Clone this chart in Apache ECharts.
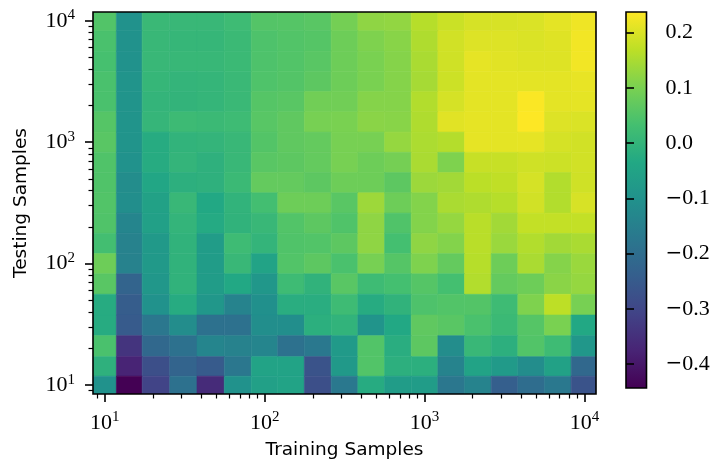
<!DOCTYPE html>
<html>
<head>
<meta charset="utf-8">
<title>Training vs testing samples</title>
<script src="https://cdn.jsdelivr.net/npm/echarts@6/dist/echarts.min.js"></script>
<style>
  html, body { margin: 0; padding: 0; background: #ffffff; }
  #chart { width: 715px; height: 466px; }
</style>
</head>
<body>
<div id="chart"></div>
<script>
// Sample counts used on both axes (log-spaced, rounded down to integers)
const trainingSamples = [10, 14, 21, 31, 46, 68, 100, 146, 215, 316, 464, 681, 1000, 1467, 2154, 3162, 4641, 6812, 10000];
const testingSamples  = [10, 14, 21, 31, 46, 68, 100, 146, 215, 316, 464, 681, 1000, 1467, 2154, 3162, 4641, 6812, 10000];

// Score per cell; one row per testing-sample count, listed from 10000 (top) down to 10 (bottom),
// each row runs over the training-sample counts from 10 to 10000.
const scoreRows = [
  [ 0.050, -0.100,  0.013,  0.010,  0.010,  0.020,  0.053,  0.055,  0.060,  0.094,  0.122,  0.125,  0.162,  0.183,  0.196,  0.197,  0.200,  0.210,  0.222],
  [ 0.040, -0.100,  0.010,  0.005,  0.005,  0.015,  0.045,  0.050,  0.055,  0.085,  0.105,  0.115,  0.155,  0.190,  0.203,  0.203,  0.200,  0.205,  0.225],
  [ 0.035, -0.100,  0.010,  0.008,  0.008,  0.015,  0.045,  0.050,  0.060,  0.085,  0.100,  0.112,  0.150,  0.188,  0.213,  0.207,  0.204,  0.204,  0.225],
  [ 0.040, -0.095,  0.005,  0.000,  0.003,  0.013,  0.047,  0.052,  0.065,  0.085,  0.100,  0.112,  0.146,  0.185,  0.210,  0.210,  0.210,  0.210,  0.215],
  [ 0.040, -0.095,  0.000, -0.002,  0.003,  0.013,  0.055,  0.060,  0.090,  0.090,  0.112,  0.112,  0.158,  0.195,  0.210,  0.210,  0.234,  0.210,  0.212],
  [ 0.055, -0.095,  0.004,  0.018,  0.015,  0.020,  0.058,  0.068,  0.097,  0.100,  0.117,  0.115,  0.155,  0.207,  0.213,  0.210,  0.237,  0.203,  0.200],
  [ 0.060, -0.095, -0.025, -0.003,  0.000,  0.010,  0.052,  0.068,  0.073,  0.097,  0.097,  0.128,  0.152,  0.160,  0.213,  0.210,  0.213,  0.195,  0.190],
  [ 0.048, -0.100, -0.025,  0.000, -0.010,  0.010,  0.060,  0.065,  0.073,  0.097,  0.085,  0.095,  0.150,  0.105,  0.180,  0.180,  0.188,  0.185,  0.190],
  [ 0.048, -0.115, -0.040, -0.013, -0.010,  0.015,  0.073,  0.073,  0.065,  0.085,  0.085,  0.065,  0.135,  0.142,  0.167,  0.172,  0.195,  0.158,  0.188],
  [ 0.050, -0.110, -0.055,  0.010, -0.035, -0.003,  0.030,  0.085,  0.085,  0.060,  0.137,  0.085,  0.110,  0.150,  0.155,  0.162,  0.190,  0.158,  0.197],
  [ 0.048, -0.135, -0.060,  0.000, -0.030, -0.005,  0.010,  0.050,  0.065,  0.048,  0.122,  0.048,  0.110,  0.128,  0.165,  0.142,  0.175,  0.175,  0.175],
  [ 0.030, -0.145, -0.080, -0.005, -0.070,  0.020,  0.000,  0.048,  0.050,  0.065,  0.122,  0.033,  0.122,  0.110,  0.165,  0.133,  0.158,  0.142,  0.150],
  [ 0.085, -0.145, -0.080, -0.005, -0.070,  0.010, -0.050,  0.050,  0.065,  0.040,  0.097,  0.055,  0.105,  0.073,  0.162,  0.085,  0.150,  0.112,  0.133],
  [ 0.060, -0.225, -0.085, -0.005, -0.070, -0.035, -0.085,  0.020, -0.005,  0.060,  0.020,  0.033,  0.055,  0.033,  0.158,  0.073,  0.085,  0.117,  0.128],
  [-0.025, -0.245, -0.100, -0.025, -0.085, -0.140, -0.105, -0.020, -0.020,  0.020, -0.025, -0.005,  0.045,  0.050,  0.052,  0.020,  0.105,  0.169,  0.097],
  [-0.025, -0.250, -0.175, -0.115, -0.190, -0.190, -0.110, -0.110, -0.015, -0.003, -0.095, -0.035,  0.068,  0.060,  0.040,  0.015,  0.055,  0.100, -0.035],
  [ 0.040, -0.340, -0.215, -0.190, -0.135, -0.145, -0.135, -0.190, -0.170, -0.075,  0.050, -0.020,  0.065, -0.115,  0.010, -0.013,  0.050,  0.020, -0.085],
  [-0.010, -0.375, -0.280, -0.225, -0.250, -0.175, -0.050, -0.050, -0.270, -0.080,  0.050, -0.013, -0.015, -0.140, -0.050, -0.075, -0.115, -0.055, -0.215],
  [-0.100, -0.443, -0.307, -0.190, -0.360, -0.100, -0.060, -0.050, -0.280, -0.170, -0.025, -0.070, -0.070, -0.175, -0.140, -0.239, -0.200, -0.170, -0.270]
];

// Axis ticks
const majorTicks = [10, 100, 1000, 10000];
const minorTicks = [9, 20, 30, 40, 50, 60, 70, 80, 90, 200, 300, 400, 500, 600, 700, 800, 900,
                    2000, 3000, 4000, 5000, 6000, 7000, 8000, 9000];
const colorbarTicks = [-0.4, -0.3, -0.2, -0.1, 0.0, 0.1, 0.2];

// Shared view limits of both log axes
const axisMin = 8.45;
const axisMax = 11800;

// Viridis colour map, stops at 0, 0.1, ..., 1
const viridis = ['#440154', '#482475', '#414487', '#355f8d', '#2a788e', '#21918c',
                 '#22a884', '#44bf70', '#7ad151', '#bddf26', '#fde725'];

// Cell edges: midpoints between neighbouring centres in log space, extrapolated at both ends
function logEdges(centres) {
  const l = centres.map(v => Math.log10(v));
  const e = [];
  e.push(Math.pow(10, l[0] - (l[1] - l[0]) / 2));
  for (let k = 0; k < l.length - 1; k++) e.push(Math.pow(10, (l[k] + l[k + 1]) / 2));
  const n = l.length - 1;
  e.push(Math.pow(10, l[n] + (l[n] - l[n - 1]) / 2));
  return e;
}
const xEdges = logEdges(trainingSamples);
const yEdges = logEdges(testingSamples);

const cells = [];
const nRows = testingSamples.length;
scoreRows.forEach((row, r) => {
  const j = nRows - 1 - r;
  row.forEach((v, i) => cells.push([trainingSamples[i], testingSamples[j], v, i, j]));
});
const allScores = scoreRows.flat();
const vMin = Math.min(...allScores);
const vMax = Math.max(...allScores);

const serifFont = 'Liberation Serif';
const sansFont = 'DejaVu Sans';

const powerRich = {
  b: { fontFamily: serifFont, fontSize: 22, color: '#000', lineHeight: 26 },
  s: { fontFamily: serifFont, fontSize: 15, color: '#000', lineHeight: 15, verticalAlign: 'top' }
};
function powerLabel(value) {
  return '{b|10}{s|' + Math.round(Math.log10(value)) + '}';
}

function logAxis(gridIndex, position, isMajor, extra) {
  return Object.assign({
    type: 'log',
    logBase: 10,
    gridIndex: gridIndex,
    position: position,
    min: axisMin,
    max: axisMax,
    z: 6,
    axisLine: { show: false },
    splitLine: { show: false },
    minorTick: { show: false },
    axisTick: {
      show: true,
      customValues: isMajor ? majorTicks : minorTicks,
      length: isMajor ? 8 : 4.5,
      lineStyle: { color: '#000', width: isMajor ? 1.6 : 1.2 }
    },
    axisLabel: isMajor ? {
      show: true,
      customValues: majorTicks,
      formatter: powerLabel,
      rich: powerRich
    } : { show: false }
  }, extra || {});
}

const chart = echarts.init(document.getElementById('chart'), null, { renderer: 'canvas' });

chart.setOption({
  backgroundColor: '#ffffff',
  animation: false,
  grid: [
    { left: 93, top: 12, width: 503, height: 382, show: true, z: 5,
      backgroundColor: 'transparent', borderColor: '#000', borderWidth: 1.6 },
    { left: 626, top: 12, width: 20.5, height: 376, show: true, z: 5,
      backgroundColor: 'transparent', borderColor: '#000', borderWidth: 1.6 }
  ],
  xAxis: [
    logAxis(0, 'bottom', true, {
      axisLabel: { show: true, customValues: majorTicks, formatter: powerLabel, rich: powerRich, margin: 16 },
      name: 'Training Samples',
      nameLocation: 'middle',
      nameGap: 47,
      nameTextStyle: { fontFamily: sansFont, fontSize: 18.5, color: '#000' }
    }),
    logAxis(0, 'bottom', false),
    { type: 'value', gridIndex: 1, min: 0, max: 1, show: false }
  ],
  yAxis: [
    logAxis(0, 'left', true, {
      axisLabel: { show: true, customValues: majorTicks, formatter: powerLabel, rich: powerRich, margin: 18 },
      name: 'Testing Samples',
      nameLocation: 'middle',
      nameGap: 62,
      nameTextStyle: { fontFamily: sansFont, fontSize: 18.5, color: '#000' }
    }),
    logAxis(0, 'left', false),
    {
      type: 'value', gridIndex: 1, position: 'right',
      min: vMin, max: vMax, z: 6,
      axisLine: { show: false },
      splitLine: { show: false },
      axisTick: { show: true, customValues: colorbarTicks, length: 8,
                  lineStyle: { color: '#000', width: 1.6 } },
      axisLabel: {
        show: true,
        customValues: colorbarTicks,
        margin: 19,
        formatter: function (v) {
          const s = Math.abs(v).toFixed(1);
          return v < -1e-9 ? '{m|\u2212}{n|' + s + '}' : '{n|' + s + '}';
        },
        rich: {
          m: { fontFamily: 'DejaVu Serif', fontSize: 20, color: '#000' },
          n: { fontFamily: serifFont, fontSize: 22, color: '#000' }
        }
      }
    }
  ],
  visualMap: {
    type: 'continuous',
    show: false,
    seriesIndex: 0,
    dimension: 2,
    min: vMin,
    max: vMax,
    inRange: { color: viridis }
  },
  series: [
    {
      type: 'custom',
      xAxisIndex: 0,
      yAxisIndex: 0,
      clip: true,
      z: 2,
      encode: { x: 0, y: 1 },
      data: cells,
      renderItem: function (params, api) {
        const i = api.value(3), j = api.value(4);
        const p0 = api.coord([xEdges[i], yEdges[j]]);
        const p1 = api.coord([xEdges[i + 1], yEdges[j + 1]]);
        const color = api.visual('color');
        return {
          type: 'rect',
          shape: { x: p0[0], y: p1[1], width: p1[0] - p0[0], height: p0[1] - p1[1] },
          style: { fill: color, stroke: color, lineWidth: 0.6 }
        };
      }
    },
    {
      type: 'custom',
      xAxisIndex: 2,
      yAxisIndex: 2,
      z: 2,
      data: [[0, vMin]],
      renderItem: function (params, api) {
        const p0 = api.coord([0, vMin]);
        const p1 = api.coord([1, vMax]);
        return {
          type: 'rect',
          shape: { x: p0[0], y: p1[1], width: p1[0] - p0[0], height: p0[1] - p1[1] },
          style: {
            fill: new echarts.graphic.LinearGradient(0, 1, 0, 0,
              viridis.map((c, k) => ({ offset: k / (viridis.length - 1), color: c })))
          }
        };
      }
    }
  ]
});
</script>
</body>
</html>
